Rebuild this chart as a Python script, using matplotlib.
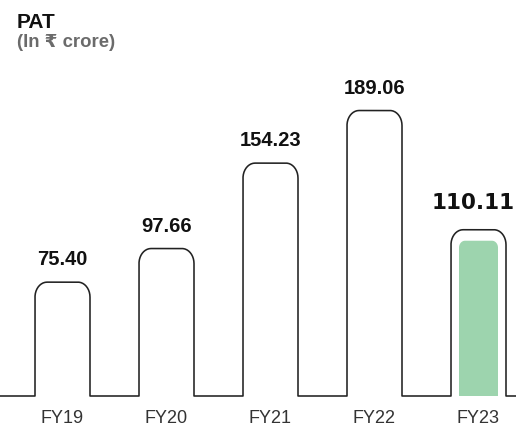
import numpy as np
import matplotlib
matplotlib.use("Agg")
import matplotlib.pyplot as plt

categories = ["FY19", "FY20", "FY21", "FY22", "FY23"]
values = [75.40, 97.66, 154.23, 189.06, 110.11]
labels = ["75.40", "97.66", "154.23", "189.06", "110.11"]
highlight = 4

W, H, DPI = 516, 433, 100
fig = plt.figure(figsize=(W / DPI, H / DPI), dpi=DPI)
ax = fig.add_axes([0, 0, 1, 1])
ax.axis("off")

# scales: pixels per category step and per value unit
px_x = 104.0
px_y = 1.51
x0_px = 62.5
base_px = 37.0
ax.set_xlim(-x0_px / px_x, (W - x0_px) / px_x)
ax.set_ylim(-base_px / px_y, (H - base_px) / px_y)

bar_w = 55 / px_x
rx, ry = 12 / px_x, 15 / px_y


def top_arc(xl, xr, top, rx, ry, n=20):
    t = np.linspace(np.pi, np.pi / 2, n)
    lx = xl + rx + rx * np.cos(t)
    ly = top - ry + ry * np.sin(t)
    t2 = np.linspace(np.pi / 2, 0, n)
    rxx = xr - rx + rx * np.cos(t2)
    ryy = top - ry + ry * np.sin(t2)
    return np.concatenate([lx, rxx]), np.concatenate([ly, ryy])


xs = [ax.get_xlim()[0]]
ys = [0.0]
for i, v in enumerate(values):
    xl, xr = i - bar_w / 2, i + bar_w / 2
    ax_, ay_ = top_arc(xl, xr, v, rx, ry)
    xs += [xl] + list(ax_) + [xr]
    ys += [0.0] + list(ay_) + [0.0]
xs.append(ax.get_xlim()[1])
ys.append(0.0)
ax.plot(xs, ys, color="#222222", lw=1.15, solid_joinstyle="round", zorder=3)

# inner green bar for highlighted year
v = values[highlight]
iw = 39 / px_x
itop = v - 11 / px_y
gx, gy = top_arc(highlight - iw / 2, highlight + iw / 2, itop, 6 / px_x, 7 / px_y)
gx = np.concatenate([[highlight - iw / 2], gx, [highlight + iw / 2]])
gy = np.concatenate([[0.0], gy, [0.0]])
ax.fill(gx, gy, color="#9dd4ae", lw=0, zorder=2)

# value labels
for i, (v, lab) in enumerate(zip(values, labels)):
    if i == highlight:
        ax.annotate(lab, (i, v), xytext=(-5 * 72 / DPI, 21 * 72 / DPI),
                    textcoords="offset points",
                    ha="center", va="baseline", fontsize=15.5, fontweight="bold",
                    family=["DejaVu Sans"], color="#111111", annotation_clip=False)
    else:
        ax.annotate(lab, (i, v), xytext=(0, 17 * 72 / DPI), textcoords="offset points",
                    ha="center", va="baseline", fontsize=14.5, fontweight="bold",
                    family=["Liberation Sans", "DejaVu Sans"], color="#111111")

# category labels
for i, c in enumerate(categories):
    ax.text(i, 1 - 423 / H, c, transform=ax.get_xaxis_transform(), ha="center",
            va="baseline", fontsize=13, color="#333333",
            family=["Liberation Sans", "DejaVu Sans"])

fig.text(17 / W, 1 - 28 / H, "PAT", fontsize=15, fontweight="bold", color="#111111",
         va="baseline", ha="left", family=["Liberation Sans", "DejaVu Sans"])
fig.text(17 / W, 1 - 47 / H, "(In ₹ crore)", fontsize=13.3, fontweight="bold",
         color="#6b6b6b", va="baseline", ha="left",
         family=["Liberation Sans", "DejaVu Sans"])

fig.savefig("out.png", dpi=DPI)
